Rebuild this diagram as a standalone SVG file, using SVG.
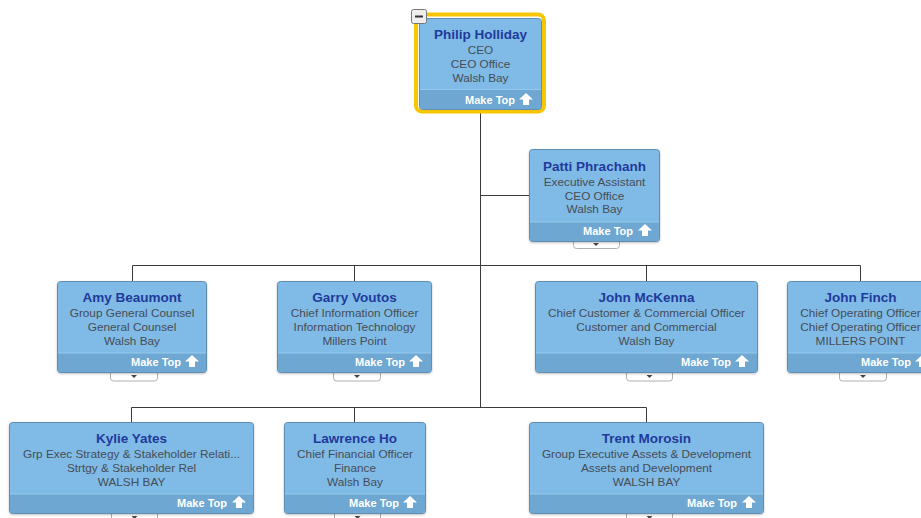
<svg xmlns="http://www.w3.org/2000/svg" width="921" height="518" viewBox="0 0 921 518">
<defs>
<style>
.box{fill:#7fbbe6;stroke:#5f8db3;stroke-width:1}
.foot{fill:#6ea7d1}
.hl{stroke:#94c9ee;stroke-width:1}
.nm{font-family:"Liberation Sans",Arial,sans-serif;font-size:13.5px;font-weight:bold;fill:#1f3a9c;text-anchor:middle}
.tx{font-family:"Liberation Sans",Arial,sans-serif;font-size:11.8px;fill:#474c55;text-anchor:middle}
.mt{font-family:"Liberation Sans",Arial,sans-serif;font-size:11px;font-weight:bold;fill:#ffffff;text-anchor:end}
.tab{fill:#ffffff;stroke:#b0b0b0;stroke-width:1}
.tri{fill:#444}
.ln{stroke:#3a3a3a;stroke-width:1;fill:none}
</style>
<path id="up" d="M0,0 L7,6.5 L3,6.5 L3,12 L-3,12 L-3,6.5 L-7,6.5 Z" fill="#ffffff"/>
<filter id="sh" x="-5%" y="-5%" width="110%" height="115%"><feDropShadow dx="0" dy="1" stdDeviation="1" flood-color="#000" flood-opacity="0.25"/></filter>
</defs>
<rect width="921" height="518" fill="#ffffff"/>

<g id="connectors">
<path class="ln" d="M480.5,113 V407.5"/>
<path class="ln" d="M480.5,195.5 H529"/>
<path class="ln" d="M132.5,265.5 H860.5 M132.5,265.5 V281 M354.5,265.5 V281 M646.5,265.5 V281 M860.5,265.5 V281"/>
<path class="ln" d="M131.5,407.5 H646.5 M131.5,407.5 V422 M354.5,407.5 V422 M646.5,407.5 V422"/>
</g>

<g id="node-philip">
<rect x="416" y="14.5" width="128" height="97" rx="6" fill="none" stroke="#f7c600" stroke-width="4"/>
<rect class="box" x="419.5" y="18.5" width="122" height="91" rx="3"/>
<path class="foot" d="M420,89.5 H541 V106 Q541,109 538,109 H423 Q420,109 420,106 Z"/>
<line class="hl" x1="420" y1="89.5" x2="541" y2="89.5"/>
<text class="nm" x="480.5" y="39">Philip Holliday</text>
<text class="tx" x="480.5" y="54">CEO</text>
<text class="tx" x="480.5" y="68">CEO Office</text>
<text class="tx" x="480.5" y="82">Walsh Bay</text>
<text class="mt" x="515" y="104">Make Top</text>
<use href="#up" x="526" y="93"/>
<rect x="411.5" y="9.5" width="15" height="14" rx="2" fill="#eeeeee" stroke="#777777"/>
<rect x="415" y="15.5" width="8" height="2" fill="#333333"/>
</g>

<g id="node-patti">
<rect class="tab" x="573.5" y="238" width="46" height="10.5" rx="3"/>
<path class="tri" d="M593,243 h6 l-3,3 z"/>
<rect class="box" x="529.5" y="149.5" width="130" height="92" rx="3" filter="url(#sh)"/>
<path class="foot" d="M530,222 H659 V238 Q659,241 656,241 H533 Q530,241 530,238 Z"/>
<line class="hl" x1="530" y1="222" x2="659" y2="222"/>
<text class="nm" x="594.5" y="171">Patti Phrachanh</text>
<text class="tx" x="594.5" y="186">Executive Assistant</text>
<text class="tx" x="594.5" y="200">CEO Office</text>
<text class="tx" x="594.5" y="213">Walsh Bay</text>
<text class="mt" x="633" y="235">Make Top</text>
<use href="#up" x="645" y="224"/>
</g>

<g id="node-amy">
<rect class="tab" x="110.5" y="370" width="47" height="11" rx="3"/>
<path class="tri" d="M131,375 h6 l-3,3 z"/>
<rect class="box" x="57.5" y="281.5" width="149" height="91" rx="3" filter="url(#sh)"/>
<path class="foot" d="M58,353 H206 V369 Q206,372 203,372 H61 Q58,372 58,369 Z"/>
<line class="hl" x1="58" y1="353" x2="206" y2="353"/>
<text class="nm" x="132" y="302">Amy Beaumont</text>
<text class="tx" x="132" y="317">Group General Counsel</text>
<text class="tx" x="132" y="331">General Counsel</text>
<text class="tx" x="132" y="345">Walsh Bay</text>
<text class="mt" x="181" y="366">Make Top</text>
<use href="#up" x="192" y="355"/>
</g>

<g id="node-garry">
<rect class="tab" x="333.5" y="370" width="47" height="11" rx="3"/>
<path class="tri" d="M354,375 h6 l-3,3 z"/>
<rect class="box" x="277.5" y="281.5" width="154" height="91" rx="3" filter="url(#sh)"/>
<path class="foot" d="M278,353 H431 V369 Q431,372 428,372 H281 Q278,372 278,369 Z"/>
<line class="hl" x1="278" y1="353" x2="431" y2="353"/>
<text class="nm" x="354.5" y="302">Garry Voutos</text>
<text class="tx" x="354.5" y="317">Chief Information Officer</text>
<text class="tx" x="354.5" y="331">Information Technology</text>
<text class="tx" x="354.5" y="345">Millers Point</text>
<text class="mt" x="405" y="366">Make Top</text>
<use href="#up" x="416" y="355"/>
</g>

<g id="node-mckenna">
<rect class="tab" x="626.5" y="370" width="46" height="11" rx="3"/>
<path class="tri" d="M646.5,375 h6 l-3,3 z"/>
<rect class="box" x="535.5" y="281.5" width="222" height="91" rx="3" filter="url(#sh)"/>
<path class="foot" d="M536,353 H757 V369 Q757,372 754,372 H539 Q536,372 536,369 Z"/>
<line class="hl" x1="536" y1="353" x2="757" y2="353"/>
<text class="nm" x="646.5" y="302">John McKenna</text>
<text class="tx" x="646.5" y="317">Chief Customer &amp; Commercial Officer</text>
<text class="tx" x="646.5" y="331">Customer and Commercial</text>
<text class="tx" x="646.5" y="345">Walsh Bay</text>
<text class="mt" x="731" y="366">Make Top</text>
<use href="#up" x="742" y="355"/>
</g>

<g id="node-finch">
<rect class="tab" x="839.5" y="370" width="47" height="11" rx="3"/>
<path class="tri" d="M860,375 h6 l-3,3 z"/>
<rect class="box" x="787.5" y="281.5" width="150" height="91" rx="3" filter="url(#sh)"/>
<path class="foot" d="M788,353 H937 V369 Q937,372 934,372 H791 Q788,372 788,369 Z"/>
<line class="hl" x1="788" y1="353" x2="937" y2="353"/>
<text class="nm" x="860.5" y="302">John Finch</text>
<text class="tx" x="860.5" y="317">Chief Operating Officer</text>
<text class="tx" x="860.5" y="331">Chief Operating Officer</text>
<text class="tx" x="860.5" y="345">MILLERS POINT</text>
<text class="mt" x="911" y="366">Make Top</text>
<use href="#up" x="922" y="355"/>
</g>

<g id="node-kylie">
<rect class="tab" x="111.5" y="511" width="46" height="11" rx="3"/>
<path class="tri" d="M131.5,516 h6 l-3,3 z"/>
<rect class="box" x="9.5" y="422.5" width="244" height="91" rx="3" filter="url(#sh)"/>
<path class="foot" d="M10,494 H253 V510 Q253,513 250,513 H13 Q10,513 10,510 Z"/>
<line class="hl" x1="10" y1="494" x2="253" y2="494"/>
<text class="nm" x="131.5" y="443">Kylie Yates</text>
<text class="tx" x="131.5" y="458">Grp Exec Strategy &amp; Stakeholder Relati...</text>
<text class="tx" x="131.5" y="472">Strtgy &amp; Stakeholder Rel</text>
<text class="tx" x="131.5" y="486">WALSH BAY</text>
<text class="mt" x="227" y="507">Make Top</text>
<use href="#up" x="239" y="496"/>
</g>

<g id="node-lawrence">
<rect class="tab" x="334.5" y="511" width="46" height="11" rx="3"/>
<path class="tri" d="M354.5,516 h6 l-3,3 z"/>
<rect class="box" x="284.5" y="422.5" width="141" height="91" rx="3" filter="url(#sh)"/>
<path class="foot" d="M285,494 H425 V510 Q425,513 422,513 H288 Q285,513 285,510 Z"/>
<line class="hl" x1="285" y1="494" x2="425" y2="494"/>
<text class="nm" x="355" y="443">Lawrence Ho</text>
<text class="tx" x="355" y="458">Chief Financial Officer</text>
<text class="tx" x="355" y="472">Finance</text>
<text class="tx" x="355" y="486">Walsh Bay</text>
<text class="mt" x="399" y="507">Make Top</text>
<use href="#up" x="410" y="496"/>
</g>

<g id="node-trent">
<rect class="tab" x="626.5" y="511" width="46" height="11" rx="3"/>
<path class="tri" d="M646.5,516 h6 l-3,3 z"/>
<rect class="box" x="529.5" y="422.5" width="234" height="91" rx="3" filter="url(#sh)"/>
<path class="foot" d="M530,494 H763 V510 Q763,513 760,513 H533 Q530,513 530,510 Z"/>
<line class="hl" x1="530" y1="494" x2="763" y2="494"/>
<text class="nm" x="646.5" y="443">Trent Morosin</text>
<text class="tx" x="646.5" y="458">Group Executive Assets &amp; Development</text>
<text class="tx" x="646.5" y="472">Assets and Development</text>
<text class="tx" x="646.5" y="486">WALSH BAY</text>
<text class="mt" x="737" y="507">Make Top</text>
<use href="#up" x="749" y="496"/>
</g>
</svg>
